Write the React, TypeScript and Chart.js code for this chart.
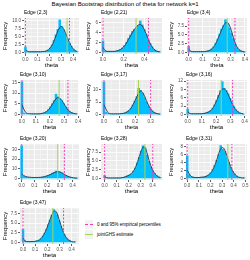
import React, { useEffect, useRef } from "react";
import { Chart, registerables } from "chart.js";
Chart.register(...registerables);

const TITLE = "Bayesian Bootstrap distribution of theta for network k=1";
const FONT = "'Liberation Sans', Arial, Helvetica, sans-serif";
const BAR = "#00BFFF";
const DENS = "rgba(45,55,65,0.9)";
const MAGENTA = "#F23DB3";
const GREEN = "#A8D25C";

const edgeNames = ["Edge (2,3)", "Edge (2,21)", "Edge (3,4)", "Edge (3,10)", "Edge (3,17)", "Edge (3,16)", "Edge (3,20)", "Edge (3,28)", "Edge (3,31)", "Edge (3,47)"];
const binWidths = [0.016, 0.019, 0.0138, 0.0135, 0.0124, 0.0135, 0.015, 0.016, 0.017, 0.0148];

const hist1 = [1.7, 0.3, 0.2, 0.2, 0.2, 0.2, 0.2, 0.2, 0.2, 0.3, 0.3, 0.5, 0.8, 1.4, 2.4, 3.8, 5.6, 7.3, 10.3, 8.2, 7.2, 5.8, 4.4, 3.0, 1.9, 1.1, 0.6, 0.3];
const dens1 = [0.9, 0.4, 0.2, 0.2, 0.2, 0.2, 0.2, 0.2, 0.2, 0.3, 0.3, 0.5, 0.8, 1.4, 2.3, 3.6, 5.2, 6.8, 7.9, 8.2, 7.5, 6.2, 4.7, 3.3, 2.1, 1.2, 0.6, 0.3];
const hist2 = [2.3, 0.3, 0.2, 0.2, 0.2, 0.2, 0.2, 0.3, 0.4, 0.6, 0.9, 1.4, 2.0, 2.8, 3.5, 4.2, 4.6, 4.8, 5.4, 6.3, 5.5, 4.6, 3.6, 2.6, 1.8, 1.1, 0.6, 0.3, 0.2, 0.1];
const dens2 = [1.0, 0.4, 0.2, 0.2, 0.2, 0.2, 0.2, 0.3, 0.4, 0.6, 0.9, 1.3, 1.9, 2.6, 3.3, 4.0, 4.6, 5.1, 5.5, 5.6, 5.3, 4.6, 3.7, 2.7, 1.8, 1.1, 0.6, 0.3, 0.15, 0.1];
const hist3 = [1.7, 0.3, 0.2, 0.2, 0.2, 0.2, 0.2, 0.2, 0.2, 0.3, 0.4, 0.6, 1.0, 1.6, 2.6, 3.8, 5.2, 6.6, 7.6, 9.3, 8.2, 7.0, 5.5, 3.8, 2.4, 1.3, 0.7, 0.4, 0.2, 0.1];
const dens3 = [0.9, 0.4, 0.2, 0.2, 0.2, 0.2, 0.2, 0.2, 0.2, 0.3, 0.4, 0.6, 1.0, 1.6, 2.5, 3.7, 5.0, 6.4, 7.6, 8.4, 8.5, 7.8, 6.3, 4.4, 2.7, 1.5, 0.8, 0.4, 0.2, 0.1];
const hist4 = [15.5, 0.6, 0.3, 0.2, 0.2, 0.2, 0.2, 0.2, 0.2, 0.2, 0.3, 0.5, 0.8, 1.4, 2.3, 3.5, 5.0, 6.5, 9.6, 8.3, 7.4, 6.5, 5.1, 3.6, 2.4, 1.5, 0.9, 0.5, 0.3, 0.2];
const dens4 = [4.6, 2.4, 0.9, 0.4, 0.3, 0.2, 0.2, 0.2, 0.2, 0.2, 0.3, 0.5, 0.8, 1.3, 2.1, 3.2, 4.6, 6.1, 7.4, 7.9, 7.6, 6.7, 5.3, 3.8, 2.5, 1.5, 0.9, 0.5, 0.3, 0.2];
const hist5 = [13.3, 0.8, 0.3, 0.2, 0.2, 0.2, 0.2, 0.2, 0.2, 0.3, 0.4, 0.6, 1.0, 1.6, 2.5, 3.8, 5.4, 7.2, 10.6, 9.8, 8.6, 6.8, 5.0, 3.4, 2.2, 1.3, 0.7, 0.4, 0.2, 0.1];
const dens5 = [4.0, 2.2, 0.8, 0.3, 0.2, 0.2, 0.2, 0.2, 0.2, 0.3, 0.4, 0.6, 1.0, 1.6, 2.5, 3.8, 5.4, 7.1, 8.7, 9.5, 9.0, 7.5, 5.6, 3.8, 2.4, 1.4, 0.8, 0.4, 0.2, 0.1];
const hist6 = [1.8, 0.3, 0.2, 0.2, 0.2, 0.2, 0.2, 0.2, 0.3, 0.4, 0.6, 0.9, 1.4, 2.2, 3.4, 5.0, 6.8, 8.6, 11.8, 9.4, 8.6, 7.4, 5.8, 4.2, 2.8, 1.7, 1.0, 0.5, 0.3, 0.1];
const dens6 = [0.9, 0.4, 0.2, 0.2, 0.2, 0.2, 0.2, 0.2, 0.3, 0.4, 0.6, 0.9, 1.4, 2.2, 3.4, 4.9, 6.6, 8.1, 9.1, 9.2, 8.5, 7.2, 5.6, 4.0, 2.7, 1.7, 1.0, 0.5, 0.3, 0.1];
const hist7 = [34, 2.2, 1.4, 1.0, 0.8, 0.7, 0.7, 0.7, 0.8, 0.9, 1.1, 1.4, 1.8, 2.4, 3.2, 4.2, 5.3, 6.3, 7.6, 7.3, 6.6, 5.6, 4.4, 3.2, 2.2, 1.4, 0.9, 0.5, 0.3, 0.2];
const dens7 = [4.5, 3.0, 2.0, 1.5, 1.2, 1.0, 0.9, 0.9, 0.9, 1.0, 1.1, 1.4, 1.8, 2.4, 3.1, 4.0, 5.0, 5.9, 6.6, 6.9, 6.6, 5.8, 4.6, 3.4, 2.3, 1.5, 1.0, 0.6, 0.3, 0.2];
const hist8 = [0.8, 0.2, 0.1, 0.1, 0.1, 0.1, 0.1, 0.1, 0.1, 0.2, 0.3, 0.5, 0.8, 1.0, 1.3, 2.0, 3.0, 4.4, 6.0, 7.8, 9.3, 8.7, 6.6, 4.8, 3.3, 2.2, 1.4, 0.8, 0.4, 0.2];
const dens8 = [0.5, 0.2, 0.1, 0.1, 0.1, 0.1, 0.1, 0.1, 0.1, 0.2, 0.3, 0.5, 0.7, 1.0, 1.4, 2.1, 3.1, 4.5, 6.2, 7.8, 8.9, 8.8, 7.3, 5.3, 3.6, 2.3, 1.4, 0.8, 0.4, 0.2];
const hist9 = [5.7, 0.9, 0.4, 0.3, 0.2, 0.2, 0.2, 0.2, 0.3, 0.4, 0.6, 0.9, 1.4, 2.2, 3.3, 4.6, 6.0, 8.3, 7.4, 6.8, 5.4, 4.0, 2.8, 1.8, 1.1, 0.6, 0.3, 0.2, 0.1, 0.1];
const dens9 = [2.1, 1.2, 0.5, 0.3, 0.2, 0.2, 0.2, 0.3, 0.3, 0.4, 0.6, 0.9, 1.4, 2.2, 3.3, 4.7, 6.3, 7.5, 7.8, 7.2, 5.9, 4.4, 3.0, 1.9, 1.1, 0.6, 0.3, 0.2, 0.1, 0.1];
const hist10 = [3.3, 0.4, 0.2, 0.2, 0.2, 0.2, 0.2, 0.3, 0.4, 0.6, 1.0, 1.6, 2.4, 3.4, 4.6, 5.8, 7.0, 8.5, 7.8, 7.0, 5.6, 4.2, 3.0, 2.0, 1.2, 0.7, 0.4, 0.2, 0.1, 0.1];
const dens10 = [1.1, 0.4, 0.2, 0.2, 0.2, 0.2, 0.2, 0.3, 0.4, 0.6, 1.0, 1.6, 2.4, 3.4, 4.6, 5.9, 7.1, 8.0, 8.1, 7.4, 6.0, 4.5, 3.1, 2.0, 1.2, 0.7, 0.4, 0.2, 0.1, 0.1];

const histograms = [hist1, hist2, hist3, hist4, hist5, hist6, hist7, hist8, hist9, hist10];
const densities = [dens1, dens2, dens3, dens4, dens5, dens6, dens7, dens8, dens9, dens10];

const lowerPct = [0, 0, 0, 0, 0, 0, 0, 0, 0, 0];
const upperPct = [0.37, 0.44, 0.33, 0.328, 0.30, 0.315, 0.335, 0.40, 0.385, 0.333];
const estimates = [0.35, 0.32, 0.275, 0.265, 0.222, 0.235, 0.283, 0.335, 0.35, 0.245];

const xMins = [-0.012, -0.019, -0.012, -0.014, -0.019, -0.012, -0.013, -0.03, -0.01, -0.025];
const xMaxs = [0.45, 0.571, 0.416, 0.407, 0.373, 0.416, 0.45, 0.477, 0.515, 0.46];
const xSteps = [0.1, 0.2, 0.1, 0.1, 0.1, 0.1, 0.1, 0.1, 0.1, 0.1];
const yMins = [-0.5, -0.33, -0.47, -0.8, -0.67, -0.6, -1.7, -0.47, -0.42, -0.43];
const yMaxs = [10.9, 6.9, 9.8, 16.3, 14, 12.4, 35.7, 9.8, 8.7, 8.9];
const ySteps = [2.5, 2, 2.5, 5, 5, 3, 10, 2.5, 2, 2.5];
const yDecimals = [1, 0, 1, 0, 0, 0, 0, 1, 0, 1];

const yAxisWidths = [23, 17, 20, 19, 17, 19, 19, 17, 19, 19];
const colLefts = [0, 83, 166];
const colWidths = [83, 83, 84];
const rowTops = [9, 71, 135, 199];
const PANEL_H = 60;

const bgPlugin = {
  id: "panelBg",
  beforeDraw(chart: any) {
    const { ctx, chartArea } = chart;
    ctx.save();
    ctx.fillStyle = "#EBEBEB";
    ctx.fillRect(chartArea.left, chartArea.top, chartArea.right - chartArea.left, chartArea.bottom - chartArea.top);
    ctx.restore();
  },
};

function isMajor(v: number, step: number) {
  const r = v / step;
  return Math.abs(r - Math.round(r)) < 1e-6;
}

function Panel({ idx }: { idx: number }) {
  const ref = useRef<HTMLCanvasElement>(null);
  const col = idx % 3;
  const row = Math.floor(idx / 3);
  useEffect(() => {
    if (!ref.current) return;
    const w = binWidths[idx];
    const hist = histograms[idx];
    const dens = densities[idx];
    const centers = hist.map((_, i) => i * w);
    const yMin = yMins[idx];
    const yMax = yMaxs[idx];
    const xs = xSteps[idx];
    const ys = ySteps[idx];
    const vline = (x: number, color: string, dash: number[], order: number) => ({
      type: "line" as const,
      data: [{ x, y: yMin }, { x, y: yMax }],
      borderColor: color,
      borderWidth: 1,
      borderDash: dash,
      pointRadius: 0,
      order,
    });
    const gridColor = (step: number) => (c: any) =>
      c.tick && isMajor(c.tick.value, step) ? "#FFFFFF" : "rgba(255,255,255,0.75)";
    const gridWidth = (step: number) => (c: any) =>
      c.tick && isMajor(c.tick.value, step) ? 0.8 : 0.4;
    const tickColor = (step: number) => (c: any) =>
      c.tick && isMajor(c.tick.value, step) ? "#333333" : "rgba(0,0,0,0)";
    const chart = new Chart(ref.current, {
      type: "bar",
      data: {
        datasets: [
          {
            type: "bar",
            data: centers.map((x, i) => ({ x, y: hist[i] })),
            backgroundColor: BAR,
            borderWidth: 0,
            barPercentage: 1,
            categoryPercentage: 1,
            order: 5,
          },
          {
            type: "line",
            data: centers.map((x, i) => ({ x, y: dens[i] })),
            borderColor: DENS,
            borderWidth: 1,
            pointRadius: 0,
            cubicInterpolationMode: "monotone",
            order: 4,
          },
          vline(estimates[idx], GREEN, [], 3),
          vline(lowerPct[idx], MAGENTA, [2, 1.5], 2),
          vline(upperPct[idx], MAGENTA, [2, 1.5], 1),
        ] as any,
      },
      options: {
        responsive: false,
        animation: false,
        events: [],
        layout: { padding: { left: 1, right: col === 2 ? 3 : 4, top: 0, bottom: 0 } },
        plugins: {
          legend: { display: false },
          tooltip: { enabled: false },
          title: {
            display: true,
            text: edgeNames[idx],
            align: "start",
            fullSize: false,
            color: "#000",
            font: { family: FONT, size: 5, weight: "normal" },
            padding: { top: 1, bottom: 2 },
          },
        },
        scales: {
          x: {
            type: "linear",
            min: xMins[idx],
            max: xMaxs[idx],
            offset: false,
            border: { display: false },
            grid: {
              offset: false,
              color: gridColor(xs),
              lineWidth: gridWidth(xs),
              tickColor: tickColor(xs),
              tickLength: 2,
            },
            ticks: {
              stepSize: xs / 2,
              includeBounds: false,
              autoSkip: false,
              maxRotation: 0,
              padding: 1,
              color: "#4D4D4D",
              font: { family: FONT, size: 4.5 },
              callback: (v: any) => (isMajor(Number(v), xs) ? Number(v).toFixed(1) : ""),
            },
            title: {
              display: true,
              text: "theta",
              color: "#000",
              font: { family: FONT, size: 6 },
              padding: { top: 0, bottom: 0 },
            },
            afterFit: (s: any) => {
              s.height = 15;
            },
          },
          y: {
            type: "linear",
            min: yMin,
            max: yMax,
            border: { display: false },
            grid: {
              color: gridColor(ys),
              lineWidth: gridWidth(ys),
              tickColor: tickColor(ys),
              tickLength: 2,
            },
            ticks: {
              stepSize: ys / 2,
              includeBounds: false,
              autoSkip: false,
              padding: 1,
              color: "#4D4D4D",
              font: { family: FONT, size: 4.5 },
              callback: (v: any) => (isMajor(Number(v), ys) ? Number(v).toFixed(yDecimals[idx]) : ""),
            },
            title: {
              display: true,
              text: "Frequency",
              color: "#000",
              font: { family: FONT, size: 6 },
              padding: { top: 1, bottom: 0 },
            },
            afterFit: (s: any) => {
              s.width = yAxisWidths[idx];
            },
          },
        },
      } as any,
      plugins: [bgPlugin],
    });
    return () => chart.destroy();
  }, [idx]);
  return (
    <canvas
      ref={ref}
      width={colWidths[col]}
      height={PANEL_H}
      style={{ position: "absolute", left: colLefts[col], top: rowTops[row], width: colWidths[col], height: PANEL_H }}
    />
  );
}

function LegendRow({ top, color, dashed, label }: { top: number; color: string; dashed: boolean; label: string }) {
  return (
    <div style={{ position: "absolute", left: 85, top, height: 9, display: "flex", alignItems: "center" }}>
      <div style={{ width: 8, height: 9, background: "#F2F2F2", position: "relative" }}>
        <div
          style={{
            position: "absolute",
            left: 0,
            top: 4,
            width: 8,
            height: 0,
            borderTop: `1px ${dashed ? "dashed" : "solid"} ${color}`,
          }}
        />
      </div>
      <span style={{ marginLeft: 4, fontSize: 4.5, fontFamily: FONT, color: "#000", whiteSpace: "nowrap", lineHeight: "9px" }}>
        {label}
      </span>
    </div>
  );
}

export default function App() {
  return (
    <div style={{ position: "absolute", left: 0, top: 0, width: 250, height: 260, background: "#FFFFFF", overflow: "hidden" }}>
      <div
        style={{
          position: "absolute",
          left: 0,
          top: 1,
          width: 250,
          textAlign: "center",
          fontFamily: FONT,
          fontSize: 6,
          lineHeight: "7px",
          color: "#000",
          whiteSpace: "nowrap",
        }}
      >
        {TITLE}
      </div>
      {edgeNames.map((_, i) => (
        <Panel key={i} idx={i} />
      ))}
      <LegendRow top={220} color={MAGENTA} dashed={true} label="0 and 95% empirical percentiles" />
      <LegendRow top={230} color={GREEN} dashed={false} label="jointGHS estimate" />
    </div>
  );
}
